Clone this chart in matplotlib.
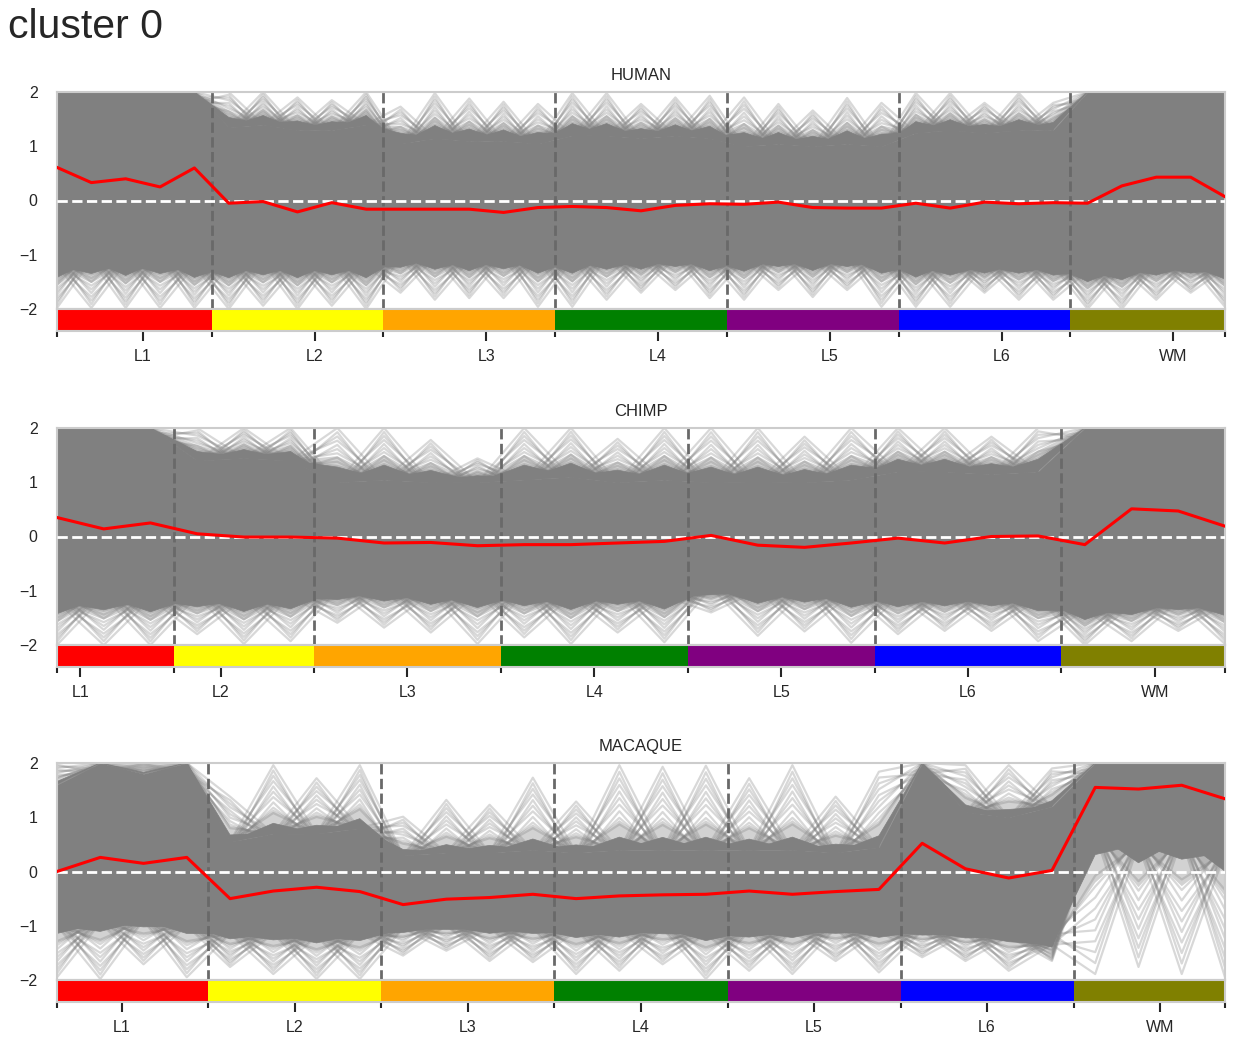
import numpy as np
import matplotlib
matplotlib.use("Agg")
import matplotlib.pyplot as plt
from matplotlib.collections import LineCollection, PolyCollection

plt.rcParams["font.family"] = ["Liberation Sans", "DejaVu Sans"]
plt.rcParams["text.color"] = "#262626"
plt.rcParams["xtick.color"] = "#262626"
plt.rcParams["ytick.color"] = "#262626"
plt.rcParams["axes.edgecolor"] = "#cccccc"
plt.rcParams["axes.linewidth"] = 1.5

layers = ["L1", "L2", "L3", "L4", "L5", "L6", "WM"]
layer_colors = ["red", "yellow", "orange", "green", "purple", "blue", "olive"]

# ---- HUMAN ----
human_counts = [5, 5, 5, 5, 5, 5, 5]
human_mean = [0.61, 0.33, 0.40, 0.25, 0.60, -0.05, -0.02, -0.21, -0.04, -0.16,
              -0.16, -0.16, -0.16, -0.22, -0.13, -0.11, -0.13, -0.19, -0.09, -0.06,
              -0.07, -0.03, -0.13, -0.14, -0.14, -0.05, -0.14, -0.03, -0.06, -0.04,
              -0.05, 0.27, 0.43, 0.43, 0.07]
human_core_hi = [2.0, 2.0, 2.0, 2.0, 2.0, 1.35, 1.4, 1.3, 1.3, 1.4,
                 1.05, 1.15, 1.1, 1.1, 1.05, 1.2, 1.2, 1.15, 1.2, 1.15,
                 1.0, 1.05, 1.0, 1.05, 1.0, 1.25, 1.3, 1.25, 1.3, 1.3,
                 2.0, 2.0, 2.0, 2.0, 2.0]
human_out_hi = [2.0, 2.0, 2.0, 2.0, 2.0, 2.0, 2.0, 1.9, 1.85, 2.0,
                1.73, 1.98, 1.88, 1.82, 1.78, 1.98, 1.98, 1.78, 1.9, 1.93,
                1.9, 1.78, 1.66, 1.89, 1.8, 1.98, 1.98, 1.8, 1.98, 1.8,
                2.0, 2.0, 2.0, 2.0, 2.0]
human_core_lo = [-1.2, -1.1, -1.15, -1.1, -1.2, -1.2, -1.15, -1.2, -1.15, -1.2,
                 -1.05, -1.05, -1.1, -1.05, -1.1, -1.1, -1.05, -1.1, -1.05, -1.1,
                 -1.1, -1.05, -1.1, -1.05, -1.1, -1.2, -1.15, -1.2, -1.15, -1.2,
                 -1.3, -1.25, -1.2, -1.2, -1.25]
human_out_lo = [-1.98, -1.98, -1.98, -1.98, -1.98, -2.0, -1.94, -2.0, -1.94, -2.0,
                -1.7, -1.83, -1.8, -1.8, -1.96, -1.96, -1.83, -1.7, -1.65, -1.8,
                -1.83, -1.65, -1.78, -1.65, -1.96, -1.96, -1.96, -1.7, -1.83, -1.83,
                -2.0, -2.0, -1.83, -1.7, -1.96]

# ---- CHIMP ----
chimp_counts = [3, 3, 4, 4, 4, 4, 4]
chimp_mean = [0.35, 0.14, 0.25, 0.05, -0.01, -0.01, -0.03, -0.12, -0.11, -0.17,
              -0.15, -0.15, -0.12, -0.09, 0.02, -0.16, -0.20, -0.12, -0.03, -0.12,
              0.0, 0.01, -0.15, 0.51, 0.47, 0.19]
chimp_core_hi = [2.0, 2.0, 2.0, 1.4, 1.45, 1.4, 1.0, 1.05, 1.0, 1.0,
                 1.05, 1.1, 1.0, 1.05, 1.0, 1.0, 1.0, 1.05, 1.2, 1.2,
                 1.15, 1.2, 2.0, 2.0, 2.0, 2.0]
chimp_out_hi = [2.0, 2.0, 2.0, 2.0, 2.0, 2.0, 2.0, 2.0, 1.78, 1.44,
                2.0, 2.0, 1.8, 2.0, 2.0, 2.0, 1.84, 2.0, 2.0, 2.0,
                1.84, 2.0, 2.0, 2.0, 2.0, 2.0]
chimp_core_lo = [-1.2, -1.1, -1.15, -1.1, -1.15, -1.1, -1.0, -1.0, -1.05, -1.05,
                 -1.05, -1.1, -1.05, -1.1, -0.95, -1.0, -1.0, -1.05, -1.1, -1.1,
                 -1.1, -1.15, -1.35, -1.25, -1.2, -1.25]
chimp_out_lo = [-2.0, -2.0, -2.0, -1.8, -1.98, -1.93, -1.59, -1.68, -1.77, -1.98,
                -1.86, -1.98, -1.77, -1.95, -1.4, -1.83, -1.75, -1.96, -1.8, -1.74,
                -1.74, -1.93, -2.0, -1.93, -1.74, -1.98]

# ---- MACAQUE ----
macaque_counts = [4, 4, 4, 4, 4, 4, 4]
macaque_mean = [0.0, 0.26, 0.15, 0.26, -0.50, -0.36, -0.29, -0.37, -0.61, -0.51,
                -0.48, -0.42, -0.50, -0.45, -0.43, -0.42, -0.36, -0.42, -0.37, -0.33,
                0.52, 0.05, -0.12, 0.02, 1.55, 1.52, 1.59, 1.34]
macaque_core_hi = [1.6, 2.0, 1.8, 2.0, 0.55, 0.7, 0.7, 0.8, 0.3, 0.35,
                   0.35, 0.4, 0.35, 0.4, 0.4, 0.4, 0.4, 0.4, 0.35, 0.45,
                   2.0, 1.1, 1.0, 1.2, 2.0, 2.0, 2.0, 2.0]
macaque_out_hi = [2.0, 2.0, 2.0, 2.0, 1.38, 1.96, 1.72, 1.96, 1.01, 1.32,
                  1.23, 1.73, 1.29, 1.96, 1.93, 1.95, 1.72, 1.96, 1.38, 1.84,
                  2.0, 1.96, 1.96, 1.9, 2.0, 2.0, 2.0, 2.0]
macaque_core_lo = [-1.0, -0.95, -0.9, -1.0, -1.15, -1.15, -1.2, -1.15, -1.05, -1.0,
                   -1.05, -1.05, -1.1, -1.1, -1.05, -1.15, -1.1, -1.1, -1.05, -1.1,
                   -1.1, -1.15, -1.2, -1.35, 0.7, 0.5, 0.6, 0.35]
macaque_out_lo = [-1.95, -1.98, -1.71, -1.95, -1.76, -1.89, -1.98, -1.98, -1.55, -1.46,
                  -1.65, -1.67, -1.89, -1.83, -1.71, -1.98, -1.83, -1.89, -1.65, -1.86,
                  -1.58, -1.65, -1.83, -1.65, -1.89, -1.76, -1.89, -1.95]

species = [
    ("HUMAN", human_counts, human_mean, human_core_hi, human_core_lo, human_out_hi, human_out_lo),
    ("CHIMP", chimp_counts, chimp_mean, chimp_core_hi, chimp_core_lo, chimp_out_hi, chimp_out_lo),
    ("MACAQUE", macaque_counts, macaque_mean, macaque_core_hi, macaque_core_lo, macaque_out_hi, macaque_out_lo),
]

# how far the dense part of the spikes reaches towards the extreme value
solid_fracs = {"HUMAN": 0.28, "CHIMP": 0.28, "MACAQUE": 0.15}
spike_fracs = np.linspace(0.3, 1.0, 10)


def spike(core, out, i, f, foot=0.0, closed=False):
    n = len(core)
    sgn = lambda j: np.sign(out[j] - core[j] + 1e-9)
    pts = [(i, core[i] + f * (out[i] - core[i]))]
    if i > 0:
        pts.insert(0, (i - 1, core[i - 1] - foot * sgn(i - 1)))
    if i < n - 1:
        pts.append((i + 1, core[i + 1] - foot * sgn(i + 1)))
    if closed:
        pts.append((i, core[i]))
    return pts


W, H = 1233, 1045
fig = plt.figure(figsize=(W / 100, H / 100), dpi=100)
fig.text(8 / W, 1 - 8 / H, "cluster 0", fontsize=29.5, ha="left", va="top")

left, right = 57, 1225
tops = [92, 428, 763]
main_h, bar_h = 217, 22

for (name, counts, mean, core_hi, core_lo, out_hi, out_lo), top in zip(species, tops):
    ax = fig.add_axes([left / W, 1 - (top + main_h) / H, (right - left) / W, main_h / H])
    bax = fig.add_axes([left / W, 1 - (top + main_h + bar_h) / H, (right - left) / W, bar_h / H])

    n = len(mean)
    x = np.arange(n)
    core_hi, core_lo = np.array(core_hi), np.array(core_lo)
    out_hi, out_lo = np.array(out_hi), np.array(out_lo)
    sf = solid_fracs[name]

    # dense mass of gene traces
    ax.fill_between(x, core_lo, core_hi, color="gray", lw=0.5, edgecolor="gray", zorder=1)

    solid, half, segs = [], [], []
    for i in range(n):
        for core, out in ((core_hi, out_hi), (core_lo, out_lo)):
            if abs(out[i] - core[i]) < 1e-6:
                continue
            solid.append(spike(core, out, i, sf, closed=True))
            half.append(spike(core, out, i, sf + 0.2, closed=True))
            for k, f in enumerate(spike_fracs):
                segs.append(spike(core, out, i, f, foot=0.1 * (k % 3)))
    ax.add_collection(PolyCollection(half, facecolors="gray", alpha=0.35, lw=0, zorder=1))
    ax.add_collection(PolyCollection(solid, facecolors="gray", edgecolors="gray", lw=0.5, zorder=1))
    # individual traces sticking out of the mass
    ax.add_collection(LineCollection(segs, colors="gray", alpha=0.3, linewidths=1.6, zorder=2))

    starts = np.cumsum([0] + counts[:-1])
    bounds = starts[1:] - 0.5
    for b in bounds:
        ax.axvline(b, color="dimgray", ls="--", lw=2, zorder=3)
    ax.axhline(0, color="white", ls="--", lw=2, zorder=4)
    ax.plot(x, mean, color="red", lw=2.2, zorder=5)

    ax.set_xlim(0, n - 1)
    ax.set_ylim(-2, 2)
    ax.set_xticks([])
    ax.set_yticks([-2, -1, 0, 1, 2])
    ax.tick_params(axis="y", length=0, pad=14, labelsize=11.5)
    ax.set_title(name, fontsize=12, pad=9)

    # layer colour bar
    lefts = np.maximum(starts - 0.5, 0)
    rights = np.minimum(starts + np.array(counts) - 0.5, n - 1)
    bax.bar(lefts, 1, width=rights - lefts, align="edge", color=layer_colors, lw=0)
    bax.set_xlim(0, n - 1)
    bax.set_ylim(0, 1)
    bax.set_yticks([])
    label_pos = starts + np.array(counts) - 2.5
    bax.set_xticks(label_pos)
    bax.set_xticklabels(layers)
    bax.set_xticks(np.concatenate([[0], bounds, [n - 1]]), minor=True)
    bax.tick_params(axis="x", which="major", length=7.5, width=1.5, pad=5.5, labelsize=11.5)
    bax.tick_params(axis="x", which="minor", length=4, width=1.5)

fig.savefig("out.png", dpi=100)
